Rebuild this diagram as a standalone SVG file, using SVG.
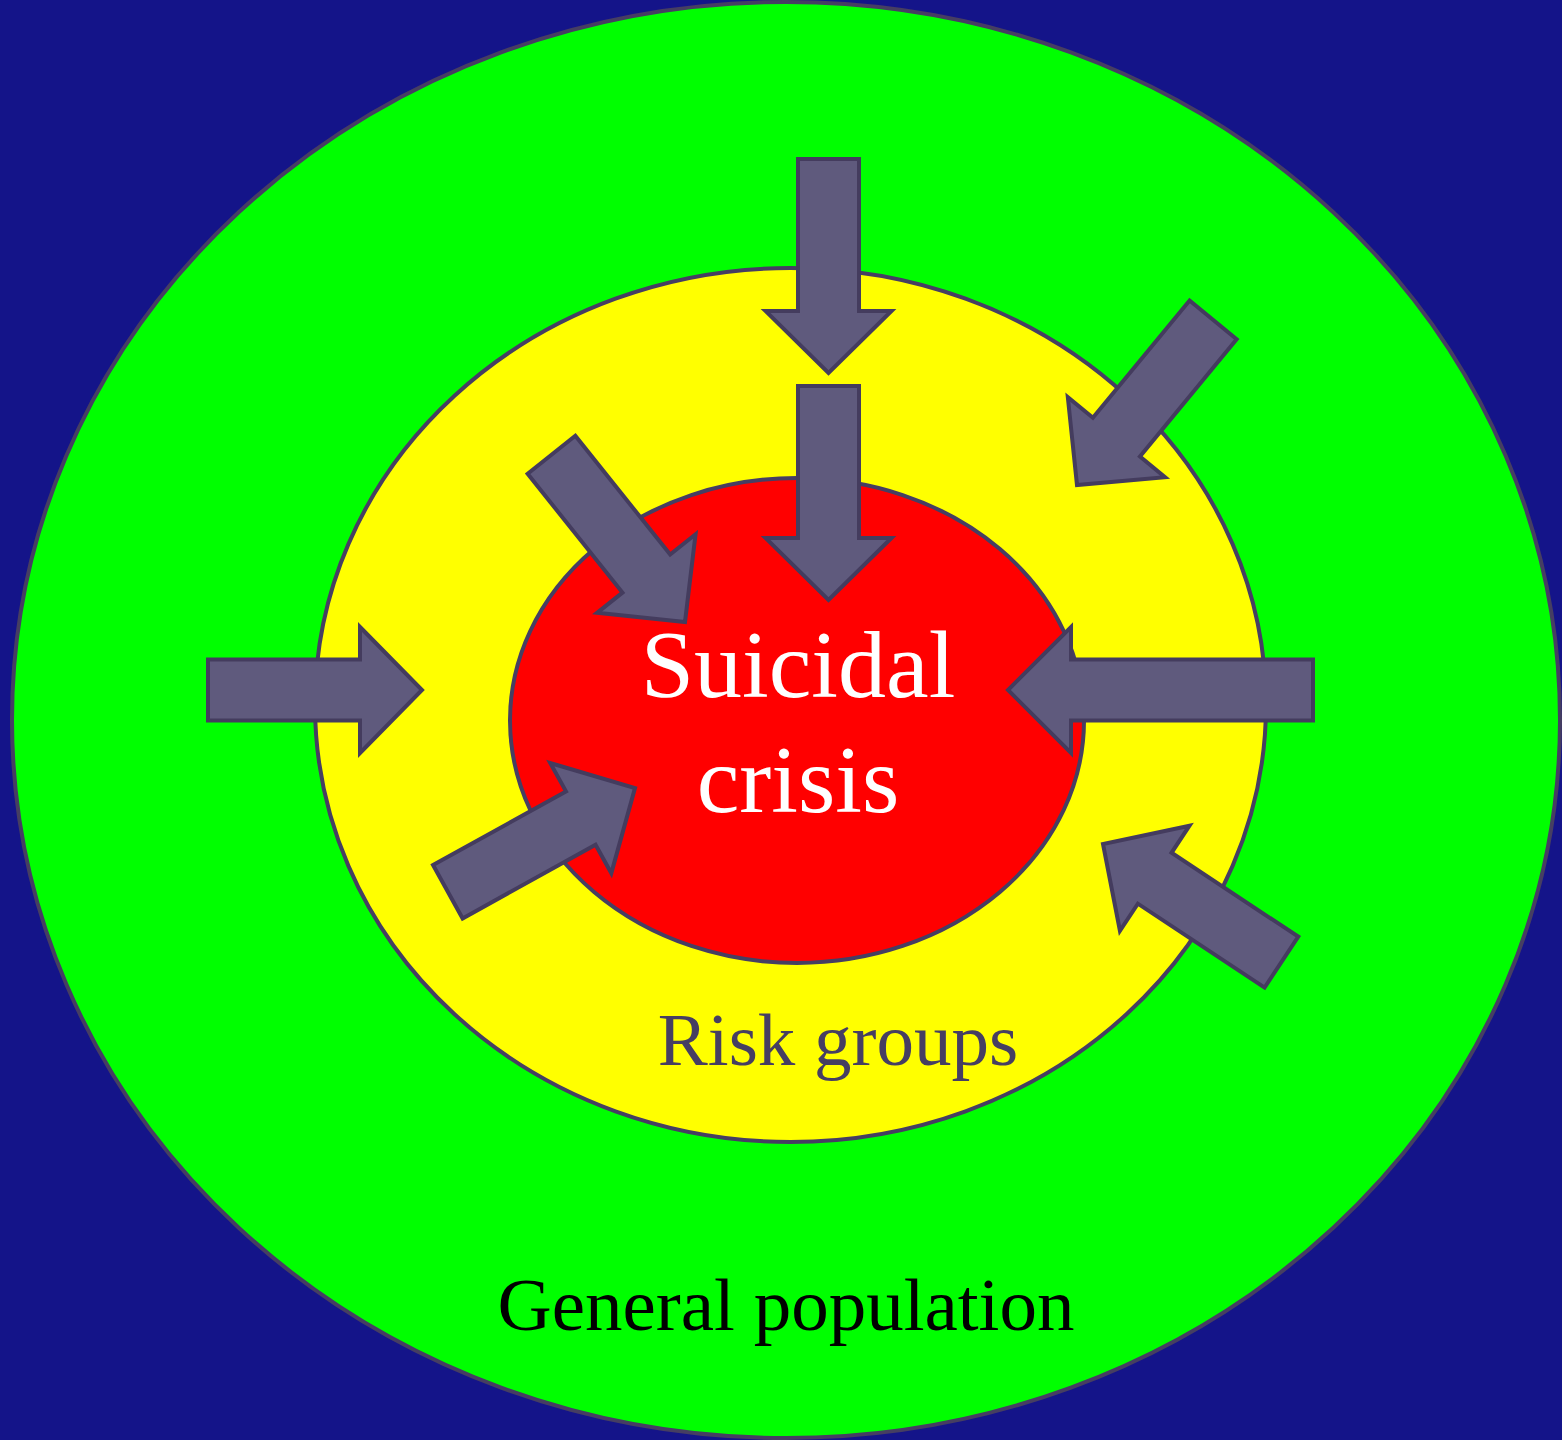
<svg xmlns="http://www.w3.org/2000/svg" width="1562" height="1440" viewBox="0 0 1562 1440">
<style>
.ring{stroke:#463e62;stroke-width:4}
.arr{fill:#5f5a7d;stroke:#443c5e;stroke-width:4;stroke-linejoin:miter}
.t{font-family:"Liberation Serif","Times New Roman",serif;text-anchor:middle}
</style>
<defs>
<polygon id="arw" points="-214,-30.5 -62,-30.5 -62,-63 0,0 -62,63 -62,30.5 -214,30.5"/>
</defs>
<rect width="1562" height="1440" fill="#141489"/>
<g id="general-population">
<ellipse class="ring" cx="786" cy="720" rx="774" ry="718" fill="#00ff00"/>
<text class="t" x="786" y="1330" font-size="75" fill="#000000">General population</text>
</g>
<g id="risk-groups">
<ellipse class="ring" cx="790.5" cy="705" rx="475.5" ry="437" fill="#ffff00"/>
<text class="t" x="838" y="1065" font-size="75" fill="#463e62">Risk groups</text>
</g>
<g id="suicidal-crisis">
<ellipse class="ring" cx="797" cy="720.5" rx="287" ry="242.5" fill="#ff0000"/>
<text class="t" x="798" y="697" font-size="96" fill="#ffffff">Suicidal</text>
<text class="t" x="798" y="812" font-size="96" fill="#ffffff">crisis</text>
</g>
<g id="connectors">
<use href="#arw" class="arr" transform="translate(828.5,373) rotate(90)"/>
<use href="#arw" class="arr" transform="translate(828.5,600) rotate(90)"/>
<use href="#arw" class="arr" transform="translate(422,690)"/>
<polygon class="arr" points="1313,659.5 1071,659.5 1071,627 1008,690 1071,753 1071,720.5 1313,720.5"/>
<use href="#arw" class="arr" transform="translate(1077,485) rotate(129.5)"/>
<use href="#arw" class="arr" transform="translate(685,622) rotate(51.4)"/>
<use href="#arw" class="arr" transform="translate(635,788) rotate(-29)"/>
<use href="#arw" class="arr" transform="translate(1103,844) rotate(-146.5)"/>
</g>
</svg>
